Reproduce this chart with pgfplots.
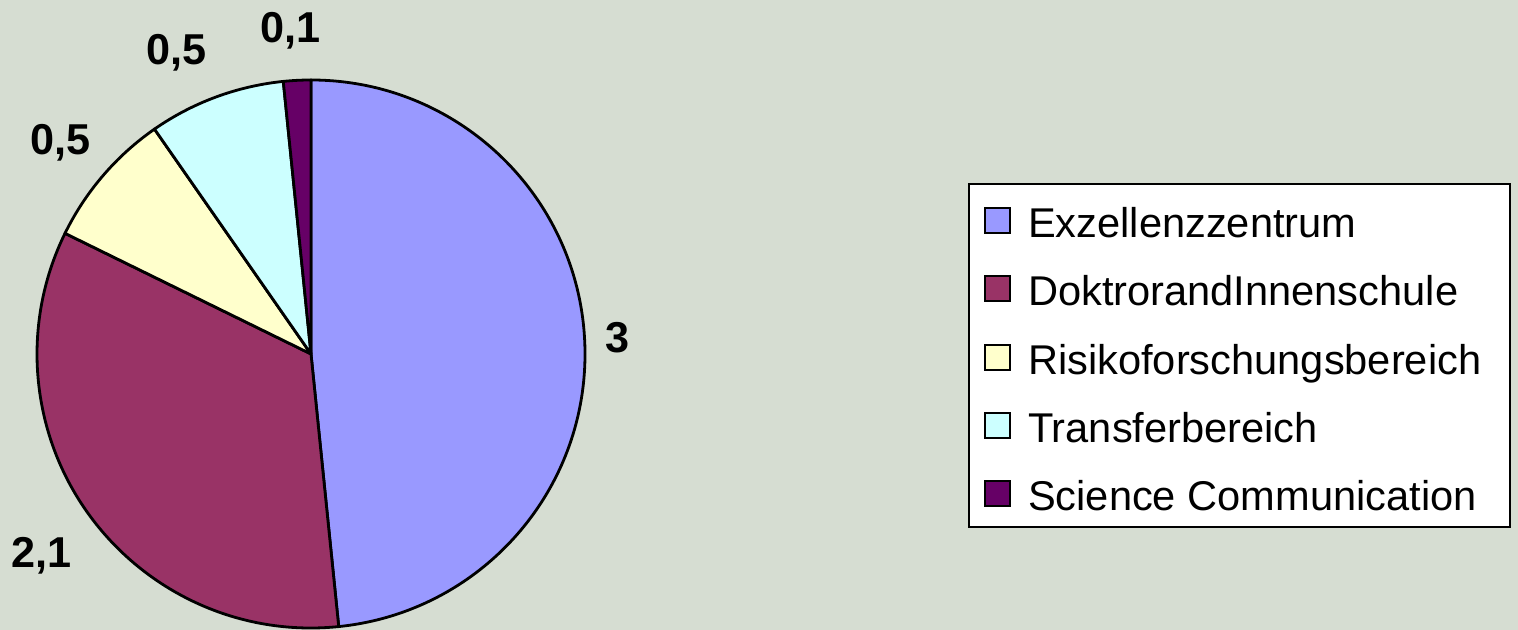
\documentclass[border=0pt]{standalone}
\usepackage{fontspec}
\setmainfont{Liberation Sans}
\usepackage{pgfplots}
\usepackage{pgfplotstable}
\pgfplotsset{compat=1.18}
\definecolor{bg}{RGB}{214,221,210}
\definecolor{c0}{RGB}{153,153,255}
\definecolor{c1}{RGB}{153,51,102}
\definecolor{c2}{RGB}{255,255,204}
\definecolor{c3}{RGB}{204,255,255}
\definecolor{c4}{RGB}{102,0,102}
\pgfplotstableread{
name value
Exzellenzzentrum 3
DoktrorandInnenschule 2.1
Risikoforschungsbereich 0.5
Transferbereich 0.5
{Science Communication} 0.1
}\piedata
\begin{document}
\begin{tikzpicture}
\fill[bg] (0,0) rectangle (759pt,315pt);
\begin{axis}[
  hide axis, scale only axis, clip=false,
  x=0.5pt, y=0.5pt, xmin=0, xmax=1518, ymin=0, ymax=630,
  at={(0,0)}, anchor=south west,
  legend image code/.code={\draw[#1, line width=1pt] (0pt,-7pt) rectangle (12.5pt,5.5pt);},
  legend style={draw=black, line width=1.1pt, fill=white,
    font=\fontsize{20.8}{25}\selectfont,
    at={(axis cs:968,102)}, anchor=south west,
    inner xsep=7.5pt, inner ysep=4pt,
    row sep=7.7pt, column sep=0pt,
    nodes={inner sep=0pt, text height=22.5pt, text depth=4pt},
    /tikz/every odd column/.style={column sep=8.5pt}},
  legend cell align=left,
]
% total
\def\total{0}
\pgfplotsforeachungrouped \i in {0,...,4}{%
  \pgfplotstablegetelem{\i}{value}\of\piedata
  \pgfmathsetmacro\total{\total+\pgfplotsretval}%
}
\def\startangle{90}
\pgfplotsforeachungrouped \i in {0,...,4}{%
  \pgfplotstablegetelem{\i}{value}\of\piedata
  \pgfmathsetmacro\endangle{\startangle-360*\pgfplotsretval/\total}%
  \edef\temp{\noexpand\filldraw[fill=c\i, draw=black, line width=1.4pt, line join=round]
    (axis cs:311,276) -- ++(\startangle:137pt)
    arc[start angle=\startangle, end angle=\endangle, radius=137pt] -- cycle;}%
  \temp
  \let\startangle\endangle
}
\addlegendimage{fill=c0, draw=black}\addlegendentry{Exzellenzzentrum}
\addlegendimage{fill=c1, draw=black}\addlegendentry{DoktrorandInnenschule}
\addlegendimage{fill=c2, draw=black}\addlegendentry{Risikoforschungsbereich\hspace*{7pt}}
\addlegendimage{fill=c3, draw=black}\addlegendentry{Transferbereich}
\addlegendimage{fill=c4, draw=black}\addlegendentry{Science Communication}
\begin{scope}[every node/.style={inner sep=0pt, anchor=base west, font=\fontsize{21.6}{26}\selectfont\bfseries}]
\node at (axis cs:605,277) {3};
\node at (axis cs:11,62) {2,1};
\node at (axis cs:30,475) {0,5};
\node at (axis cs:146,565) {0,5};
\node at (axis cs:260,587) {0,1};
\end{scope}
\end{axis}
\pgfresetboundingbox
\useasboundingbox (0,0) rectangle (759pt,315pt);
\end{tikzpicture}
\end{document}
